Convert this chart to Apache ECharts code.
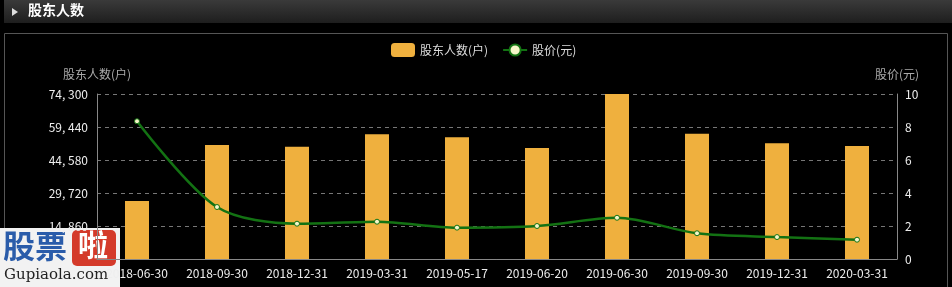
<!DOCTYPE html>
<html><head><meta charset="utf-8">
<script src="https://cdn.jsdelivr.net/npm/echarts@6/dist/echarts.min.js"></script>
<style>html,body{margin:0;padding:0;background:#000;}#c{width:952px;height:287px;}</style>
</head><body><div id="c"></div>
<script>
const categories = ['2018-06-30','2018-09-30','2018-12-31','2019-03-31','2019-05-17','2019-06-20','2019-06-30','2019-09-30','2019-12-31','2020-03-31'];
const holders = [26100, 51330, 50570, 56150, 54800, 50000, 74300, 56420, 52100, 50880];
const prices = [8.35, 3.15, 2.14, 2.26, 1.90, 2.00, 2.50, 1.56, 1.33, 1.17];
const leftTicks = [0, 14860, 29720, 44580, 59440, 74300];
const rightTicks = [0, 2, 4, 6, 8, 10];

const chart = echarts.init(document.getElementById('c'), null, {renderer:'canvas'});
const font = '"Noto Sans CJK SC", "DejaVu Sans", sans-serif';
chart.setOption({
  backgroundColor: '#000',
  animation: false,
  textStyle: {fontFamily: font},
  graphic: [
    {type:'rect', shape:{x:4,y:0,width:948,height:23}, style:{fill:new echarts.graphic.LinearGradient(0,0,0,1,[{offset:0,color:'#3a3a3a'},{offset:1,color:'#1e1e1e'}])}},
    {type:'polygon', shape:{points:[[12,8],[12,16],[18,12]]}, style:{fill:'#ddd'}},
    {type:'text', left:28, top:3, style:{text:'股东人数', fill:'#fff', font:'bold 14px ' + font}},
    {type:'rect', shape:{x:4.5,y:33.5,width:943,height:260}, style:{fill:'none', stroke:'#555', lineWidth:1}},
    {type:'group', left:0, top:228, z:100, children:[
      {type:'rect', shape:{x:0,y:0,width:120,height:59}, style:{fill:'#f2f2f2'}},
      {type:'text', x:3, y:2, style:{text:'股票', fill:'#2a5caa', font:'bold 32px ' + font}},
      {type:'rect', shape:{x:72,y:2,width:44,height:36, r:5}, style:{fill:'#d43a2a'}},
      {type:'text', x:78, y:2, style:{text:'啦', fill:'#fff', font:'bold 30px ' + font}},
      {type:'text', x:4, y:40, style:{text:'Gupiaola.com', fill:'#222', font:'15px "DejaVu Serif", serif'}}
    ]}
  ],
  legend: {
    left: 386, top: 38,
    itemWidth: 24, itemHeight: 14, itemGap: 14,
    textStyle: {color:'#ddd', fontSize:12, fontFamily: font},
    data: [
      {name:'股东人数(户)', icon:'roundRect'},
      {name:'股价(元)'}
    ]
  },
  grid: {left:97, right:55, top:94, bottom:28},
  xAxis: {
    type:'category', data: categories,
    axisLine:{lineStyle:{color:'#888'}},
    axisTick:{show:false},
    axisLabel:{color:'#eee', fontSize:12, margin:8, interval:0}
  },
  yAxis: [
    {type:'value', min:0, max:74300, interval:14860, name:'股东人数(户)',
     nameTextStyle:{color:'#aaa', fontSize:12, align:'center'},
     nameGap:14,
     axisLine:{show:true, lineStyle:{color:'#888'}}, axisTick:{show:false},
     axisLabel:{color:'#eee', fontSize:12, margin:9, formatter: v => v === 0 ? '' : v.toLocaleString('en-US').replace(',', ', ')},
     splitLine:{lineStyle:{color:'#777', type:[4,4]}}},
    {type:'value', min:0, max:10, interval:2, name:'股价(元)',
     nameTextStyle:{color:'#aaa', fontSize:12, align:'center'},
     nameGap:14,
     axisLine:{show:true, lineStyle:{color:'#888'}}, axisTick:{show:false},
     axisLabel:{color:'#eee', fontSize:12, margin:8},
     splitLine:{show:false}}
  ],
  series: [
    {name:'股东人数(户)', type:'bar', data: holders, barWidth:24, yAxisIndex:0,
     itemStyle:{color:'#efb03e'}},
    {name:'股价(元)', type:'line', data: prices, yAxisIndex:1, smooth:0.3,
     symbol:'circle', symbolSize:5, showSymbol:true,
     lineStyle:{color:'#137213', width:2.5},
     itemStyle:{color:'#f6f6c8', borderColor:'#137213', borderWidth:1}}
  ]
});
</script></body></html>
